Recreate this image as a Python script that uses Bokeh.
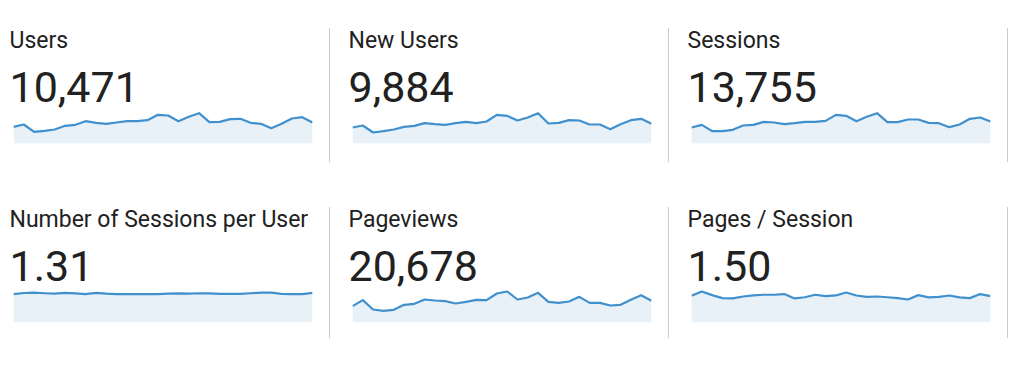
from bokeh.plotting import figure
from bokeh.models import Range1d, Title, ColumnDataSource, Div
from bokeh.layouts import row, column
from bokeh.embed import file_html
from bokeh.resources import INLINE

days = list(range(1, 31))

titles = ["Users", "New Users", "Sessions",
          "Number of Sessions per User", "Pageviews", "Pages / Session"]
totals = ["10,471", "9,884", "13,755", "1.31", "20,678", "1.50"]

users = [300, 342, 210, 228, 252, 318, 336, 402, 372, 354, 378, 402, 402, 420, 516,
         504, 402, 480, 546, 384, 390, 438, 444, 372, 354, 276, 354, 450, 474, 378]
new_users = [288, 324, 198, 222, 252, 300, 318, 366, 348, 336, 366, 390, 366, 396, 516,
             498, 414, 468, 546, 360, 372, 420, 414, 342, 342, 258, 348, 420, 444, 354]
sessions = [336, 392, 259, 259, 287, 378, 392, 455, 441, 406, 427, 455, 455, 476, 602,
            581, 469, 560, 637, 448, 448, 504, 504, 434, 427, 343, 399, 518, 546, 462]
sessions_per_user = [1.29, 1.34, 1.36, 1.33, 1.31, 1.35, 1.32, 1.29, 1.35, 1.31,
                     1.29, 1.29, 1.29, 1.29, 1.29, 1.31, 1.32, 1.31, 1.33, 1.32,
                     1.30, 1.30, 1.30, 1.33, 1.36, 1.36, 1.30, 1.29, 1.29, 1.35]
pageviews = [490, 670, 390, 350, 380, 530, 560, 690, 660, 640, 570, 620, 680, 670, 870,
             930, 690, 750, 890, 620, 590, 630, 770, 590, 590, 510, 530, 680, 820, 650]
pages_per_session = [1.52, 1.77, 1.56, 1.39, 1.37, 1.48, 1.54, 1.58, 1.58, 1.62,
                     1.37, 1.44, 1.58, 1.50, 1.54, 1.71, 1.54, 1.46, 1.48, 1.44,
                     1.39, 1.31, 1.56, 1.43, 1.46, 1.54, 1.43, 1.39, 1.62, 1.50]

series = [users, new_users, sessions, sessions_per_user, pageviews, pages_per_session]
y_max = [594, 594, 693, 1.5, 990, 1.88]

LINE = "#4190ce"
FILL = "#e8f0f8"
TEXT = "#212121"
DIV = "#cccccc"
FONT = "Roboto"

ROW_H = [186, 178]
BORDER_TOP = [110, 103]
DIV_TOP = [28, 21]
DIV_H = [134, 131]


def panel(i, r, c):
    h = ROW_H[r]
    left = 13 if c == 0 else 5
    p = figure(width=left + 299 + 17, height=h, x_range=Range1d(days[0], days[-1]),
               y_range=Range1d(0, y_max[i]), x_axis_type=None, y_axis_type=None,
               toolbar_location=None, output_backend="svg",
               min_border_left=left, min_border_right=17,
               min_border_top=BORDER_TOP[r], min_border_bottom=h - BORDER_TOP[r] - 33)
    p.outline_line_color = None
    p.grid.visible = False
    p.background_fill_color = "white"
    p.border_fill_color = "white"
    src = ColumnDataSource(dict(x=days, y=series[i]))
    p.varea(x="x", y1=0, y2="y", source=src, fill_color=FILL)
    p.line(x="x", y="y", source=src, line_color=LINE, line_width=2.2,
           line_join="round")
    p.add_layout(Title(text=totals[i], align="left", offset=-4, text_font=FONT,
                       text_font_size="43px", text_font_style="normal",
                       text_color=TEXT, standoff=18), "above")
    p.add_layout(Title(text=titles[i], align="left", offset=-4, text_font=FONT,
                       text_font_size="23px", text_font_style="normal",
                       text_color=TEXT, standoff=13), "above")
    return p


def divider(r, w):
    return Div(text="", width=w, height=DIV_H[r], margin=(DIV_TOP[r], 0, 0, 0),
               styles={"border-left": f"1px solid {DIV}", "box-sizing": "border-box"})


rows = []
for r in range(2):
    kids = []
    for c in range(3):
        kids.append(panel(r * 3 + c, r, c))
        kids.append(divider(r, 18 if c < 2 else 9))
    rows.append(row(*kids, spacing=0))

layout = column(*rows, spacing=0)
open("out.html", "w").write(file_html(layout, INLINE))
